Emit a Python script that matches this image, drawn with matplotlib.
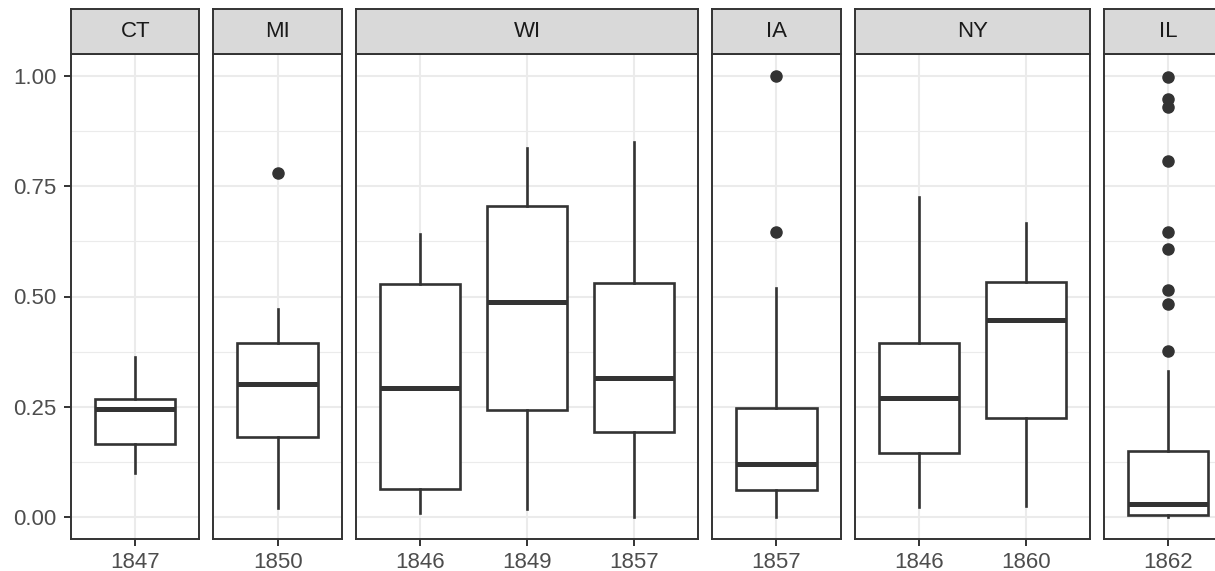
import matplotlib
matplotlib.use("Agg")
import matplotlib.pyplot as plt

plt.rcParams['font.family'] = ['Liberation Sans', 'DejaVu Sans']

# facets and the year categories inside each
states = ["CT", "MI", "WI", "IA", "NY", "IL"]
years = [["1847"], ["1850"], ["1846", "1849", "1857"], ["1857"], ["1846", "1860"], ["1862"]]

# box statistics, one entry per box in facet order
whislo = [0.099, 0.020, 0.008, 0.019, 0.000, 0.000, 0.022, 0.025, 0.000]
q1 = [0.165, 0.182, 0.064, 0.243, 0.192, 0.062, 0.146, 0.225, 0.005]
med = [0.245, 0.301, 0.292, 0.487, 0.315, 0.121, 0.270, 0.446, 0.030]
q3 = [0.267, 0.394, 0.528, 0.705, 0.530, 0.247, 0.394, 0.532, 0.150]
whishi = [0.363, 0.471, 0.642, 0.837, 0.850, 0.520, 0.726, 0.667, 0.331]
fliers = [[], [0.781], [], [], [], [1.0, 0.647], [], [],
          [0.997, 0.947, 0.929, 0.808, 0.647, 0.607, 0.515, 0.483, 0.377]]

yticks = [0.0, 0.25, 0.5, 0.75, 1.0]
yminor = [0.125, 0.375, 0.625, 0.875]

W, H = 1215, 571
fig = plt.figure(figsize=(W / 100, H / 100), dpi=100)

dark = '#333333'
grid = '#EBEBEB'
unit, gap, left = 107, 14, 71
p_top, p_bot, s_top = 54, 539, 9

k = 0
for i, (st, yrs) in enumerate(zip(states, years)):
    n = len(yrs)
    w = unit * (n + 0.2)
    ax = fig.add_axes([left / W, (H - p_bot) / H, w / W, (p_bot - p_top) / H])
    sax = fig.add_axes([left / W, (H - p_top) / H, w / W, (p_top - s_top) / H])
    left += w + gap

    stats = []
    for j in range(n):
        stats.append(dict(whislo=whislo[k], q1=q1[k], med=med[k], q3=q3[k],
                          whishi=whishi[k], fliers=fliers[k]))
        k += 1
    ax.bxp(stats, positions=range(1, n + 1), widths=0.75, patch_artist=True,
           boxprops=dict(facecolor='white', edgecolor=dark, linewidth=1.9),
           medianprops=dict(color=dark, linewidth=3.6, solid_capstyle='butt'),
           whiskerprops=dict(color=dark, linewidth=1.9),
           capprops=dict(linewidth=0),
           flierprops=dict(marker='o', markerfacecolor=dark, markeredgecolor=dark,
                           markersize=8, linestyle='none'),
           showcaps=False)

    ax.set_xlim(0.4, n + 0.6)
    ax.set_ylim(-0.05, 1.05)
    ax.set_xticks(range(1, n + 1))
    ax.set_xticklabels(yrs)
    ax.set_yticks(yticks)
    ax.set_yticks(yminor, minor=True)
    ax.set_axisbelow(True)
    ax.grid(True, which='major', color=grid, linewidth=1.5)
    ax.grid(True, which='minor', axis='y', color=grid, linewidth=0.8)
    ax.tick_params(which='minor', length=0)
    ax.tick_params(which='major', length=5, width=1.4, color=dark,
                   labelsize=16, labelcolor='#4D4D4D')
    ax.tick_params(axis='x', pad=4)
    ax.tick_params(axis='y', pad=5.5)
    if i == 0:
        ax.set_yticklabels(["0.00", "0.25", "0.50", "0.75", "1.00"])
    else:
        ax.tick_params(axis='y', which='both', left=False, labelleft=False)
    for sp in ax.spines.values():
        sp.set_color(dark)
        sp.set_linewidth(1.4)

    sax.set_facecolor('#D9D9D9')
    sax.set_xticks([])
    sax.set_yticks([])
    for sp in sax.spines.values():
        sp.set_color(dark)
        sp.set_linewidth(1.4)
    sax.text(0.5, 0.5, st, ha='center', va='center', fontsize=16,
             color='#1A1A1A', transform=sax.transAxes)

fig.savefig("out.png", dpi=100)
